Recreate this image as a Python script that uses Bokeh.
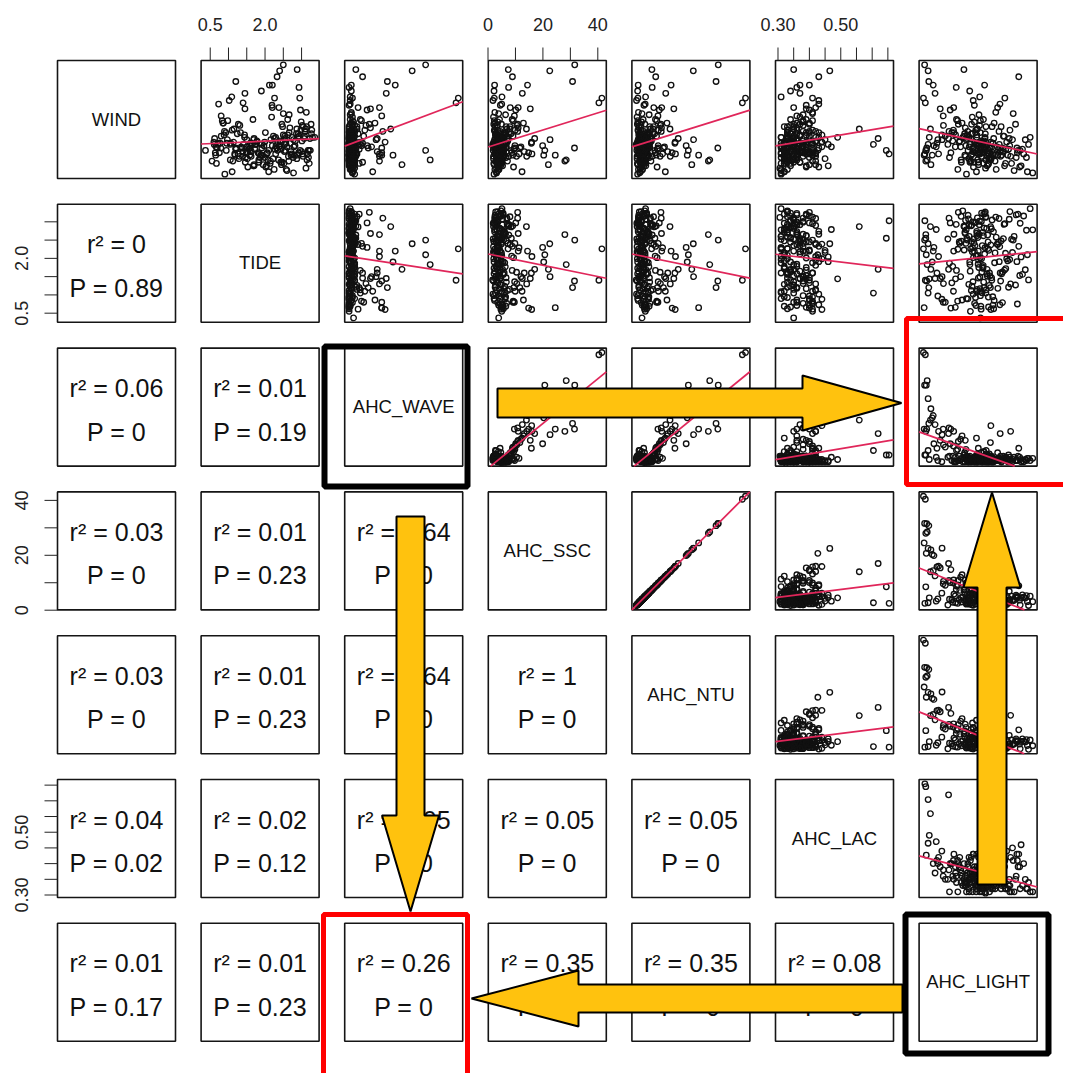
import numpy as np
from bokeh.plotting import figure
from bokeh.models import Range1d
from bokeh.core.properties import value
from bokeh.embed import file_html
from bokeh.resources import INLINE

# ---------------- data (one value per observation) ----------------
names = ["WIND", "TIDE", "AHC_WAVE", "AHC_SSC", "AHC_NTU", "AHC_LAC", "AHC_LIGHT"]
NA = float("nan")

wind = [2.1, 3.4, 6.8, 4.6, 2.8, 0.9, 3.7, 2.3, 5.2, 1.8,
        3.1, 2.6, 4.1, 1.5, 2.9, 6.3, 2.2, 3.8, 1.1, 2.7,
        4.4, 3.3, 0.6, 2.5, 3.9, 1.9, 7.4, 2.4, 3.0, 1.4,
        2.0, 4.8, 3.6, 1.7, 2.9, 2.3, 2.6, 3.2, 0.8, 4.2,
        3.5, 1.3, 7.9, 5.0, 2.1, 3.9, 1.6, 4.5, 2.3, 3.1,
        2.2, 2.8, 1.0, 3.4, 2.2, 4.0, 1.8, 2.5, 5.5, 3.0,
        1.5, 3.7, 2.4, 0.5, 4.3, 2.9, 3.6, 6.6, 8.6, 2.6,
        3.2, 4.7, 2.0, 1.2, 3.8, 2.7, 6.0, 1.6, 3.3, 2.4,
        4.1, 0.7, 2.9, 3.5, 1.9, 9.2, 2.2, 3.0, 1.4, 4.6,
        2.5, 3.9, 3.1, 2.1, 1.7, 3.4, 2.8, 4.9, 1.1, 3.6,
        2.3, 5.8, 1.8, 3.1, 2.6, 0.4, 4.4, 2.0, 3.7, 1.9,
        1.3, 2.9, 3.5, 2.7, 2.4,
        2.4, 1.6, 3.3, 2.0, 4.5, 2.7, 1.3, 3.8, 2.2, 3.0,
        1.8, 2.9, 4.0, 2.5, 1.0, 3.5, 2.1, 5.4, 2.8, 1.5,
        3.2, 2.3, 0.8, 4.2, 2.6, 3.7, 1.9, 2.4, 6.2, 3.1,
        2.0, 4.9, 2.7, 1.4, 3.4, 2.2, 3.9, 1.7, 2.9, 4.4,
        1.2, 3.6, 2.5, 5.0, 2.1, 3.0, 1.6, 2.8, 3.5, 0.6,
        4.7, 2.3, 3.1, 1.9, 2.6, 6.9, 2.0, 3.3, 1.4, 3.8,
        2.7, 1.1, 4.1, 2.4, 3.2, 1.8, 5.6, 2.6, 2.0, 3.6,
        1.7, 3.0, 2.2, 4.6, 1.3, 2.9, 3.4, 2.1, 7.7, 2.5,
        4.2, 3.4, 2.4, 2.9, 2.1, 3.5,
        6.8, 6.4, 9.6, 1.6, 8.2, 2.4, 9.1, 1.2, 2.6, 2.0, 7.9,
        7.2, 3.3, 2.1, 5.9, 1.5, 5.3, 4.0, 3.0, 2.8, 6.0, 2.0]

tide = [1.84, 0.62, 2.95, 1.27, 2.41, 3.12, 0.88, 1.63, 2.18, 2.77,
        2.45, 1.20, 3.28, 1.12, 2.53, 0.73, 1.49, 2.86, 2.04, 1.35,
        3.05, 0.97, 1.10, 1.72, 2.66, 2.64, 1.90, 3.21, 1.06, 2.47,
        1.58, 2.99, 0.80, 2.22, 1.41, 1.60, 0.69, 1.78, 2.58, 1.15,
        2.90, 2.52, 2.12, 1.67, 3.16, 0.93, 2.37, 1.31, 2.71, 1.99,
        0.64, 2.82, 1.53, 2.26, 2.92, 3.09, 1.87, 1.20, 2.50, 0.77,
        2.15, 1.44, 3.24, 2.78, 2.68, 1.75, 2.93, 1.02, 2.33, 1.60,
        3.01, 0.86, 1.93, 2.45, 1.24, 2.79, 2.38, 2.08, 1.69, 3.18,
        1.10, 2.60, 0.71, 2.29, 1.38, 2.88, 1.81, 0.95, 2.43, 3.26,
        1.56, 2.01, 0.60, 2.73, 1.29, 3.07, 2.20, 0.83, 1.70, 2.54,
        3.00, 2.97, 1.47, 2.35, 1.91, 0.90, 3.14, 1.18, 2.62, 1.30,
        0.67, 1.65, 3.36, 1.50, 0.37,
        2.35, 1.05, 2.78, 1.88, 3.02, 0.66, 2.14, 2.91, 1.51, 2.57,
        3.19, 1.73, 0.89, 2.44, 2.02, 3.30, 1.26, 2.66, 1.97, 0.55,
        2.83, 1.40, 2.25, 3.11, 0.79, 2.50, 1.62, 2.96, 2.19, 1.14,
        2.71, 0.98, 2.39, 1.83, 3.23, 2.06, 1.33, 2.87, 0.61, 2.48,
        1.95, 3.08, 1.21, 2.62, 2.29, 0.72, 3.15, 1.58, 2.74, 2.10,
        0.85, 2.53, 1.77, 3.04, 2.32, 1.09, 2.89, 2.16, 1.46, 3.27,
        2.60, 1.68, 2.98, 0.94, 2.41, 1.99, 3.13, 1.36, 2.81, 2.23,
        1.52, 2.69, 0.75, 2.46, 3.21, 1.91, 2.55, 1.17, 2.93, 2.27,
        2.87, 1.70, 2.55, 1.05, 3.03, 1.44,
        2.26, 1.40, 2.50, 1.83, 1.20, 2.10, 2.40, 1.70, 1.38, 1.90, 2.20,
        1.45, 1.50, 2.05, 1.45, 2.65, 0.80, 3.10, 1.60, 2.30, 2.20, 0.65]

wave = [0.05, 0.01, 0.04, 0.02, 0.12, 0.06, 0.01, 0.03, 0.04, 0.02,
        0.06, 0.18, 0.03, 0.01, 0.05, 0.02, 0.04, 0.09, 0.01, 0.03,
        0.04, 0.02, 0.22, 0.05, 0.01, 0.07, 0.03, 0.06, 0.02, 0.04,
        0.01, 0.05, 0.14, 0.02, 0.04, 0.26, 0.02, 0.06, 0.03, 0.08,
        0.05, 0.02, 0.03, 0.11, 0.01, 0.04, 0.06, 0.16, 0.01, 0.03,
        0.30, 0.01, 0.05, 0.02, 0.03, 0.04, 0.06, 0.10, 0.03, 0.01,
        0.02, 0.05, 0.01, 0.04, 0.20, 0.06, 0.03, 0.02, 0.13, 0.01,
        0.04, 0.24, 0.01, 0.06, 0.02, 0.05, 0.09, 0.01, 0.03, 0.04,
        0.15, 0.05, 0.01, 0.02, 0.06, 0.07, 0.03, 0.01, 0.04, 0.19,
        0.02, 0.06, 0.33, 0.04, 0.01, 0.03, 0.05, 0.12, 0.02, 0.06,
        0.03, 0.17, 0.01, 0.05, 0.02, 0.06, 0.08, 0.03, 0.04, 0.28,
        0.01, 0.04, 0.02, 0.21, 0.05,
        0.04, 0.01, 0.03, 0.02, 0.06, 0.01, 0.04, 0.02, 0.01, 0.05,
        0.02, 0.05, 0.01, 0.04, 0.03, 0.01, 0.08, 0.02, 0.05, 0.01,
        0.03, 0.06, 0.02, 0.01, 0.04, 0.02, 0.05, 0.03, 0.01, 0.11,
        0.01, 0.04, 0.02, 0.06, 0.01, 0.03, 0.02, 0.05, 0.09, 0.01,
        0.05, 0.01, 0.07, 0.02, 0.04, 0.01, 0.03, 0.06, 0.02, 0.04,
        0.03, 0.02, 0.01, 0.05, 0.03, 0.02, 0.04, 0.01, 0.13, 0.03,
        0.02, 0.04, 0.06, 0.01, 0.02, 0.05, 0.03, 0.02, 0.01, 0.04,
        0.06, 0.01, 0.02, 0.04, 0.10, 0.02, 0.05, 0.03, 0.01, 0.03,
        0.38, 0.26, 0.07, 0.11, 0.07, 0.03,
        0.98, 0.96, 0.69, 0.73, 0.35, 0.69, 0.57, 0.48, 0.30, 0.40, 0.42,
        0.34, 0.25, 0.28, 0.20, 0.28, 0.30, 0.31, 0.13, 0.17, 0.28, 0.30]

ssc = [4.2, 5.6, 2.3, 4.9, 9.8, 3.1, 6.2, 4.4, 2.0, 5.3,
       3.8, 11.6, 3.5, 7.1, 1.9, 5.0, 2.8, 8.4, 4.6, 6.7,
       2.6, 4.1, 12.4, 3.3, 5.8, 7.6, 2.2, 4.8, 6.0, 3.0,
       5.4, 3.6, 9.1, 4.3, 1.7, 13.2, 6.5, 2.9, 4.0, 7.9,
       3.2, 5.1, 2.4, 8.8, 4.7, 6.3, 3.4, 10.5, 5.7, 2.1,
       14.8, 4.5, 3.7, 7.3, 5.2, 2.5, 4.0, 9.4, 3.9, 6.8,
       4.9, 2.7, 5.5, 3.1, 11.0, 4.2, 7.0, 1.8, 8.9, 5.9,
       3.5, 12.9, 4.6, 2.3, 6.1, 3.3, 8.1, 5.0, 4.4, 2.6,
       9.9, 3.6, 5.4, 4.1, 2.0, 7.4, 3.8, 6.4, 4.8, 10.8,
       5.6, 3.0, 15.9, 2.4, 4.5, 6.9, 3.2, 9.2, 5.3, 4.3,
       2.8, 10.1, 6.6, 3.7, 4.9, 2.2, 8.0, 5.8, 3.4, 14.1,
       4.7, 2.5, 5.1, 12.0, 3.9,
       3.9, 4.6, 2.4, 6.1, 3.4, 5.2, 2.1, 7.8, 4.3, 3.6,
       5.5, 2.2, 4.4, 3.1, 9.3, 4.8, 2.7, 6.4, 3.8, 5.0,
       4.1, 3.2, 2.5, 6.9, 3.5, 5.7, 10.4, 1.9, 4.5, 3.0,
       6.0, 2.3, 4.9, 3.3, 5.4, 8.6, 3.7, 2.0, 4.7, 6.6,
       3.4, 5.3, 2.6, 4.2, 11.3, 3.9, 4.6, 2.2, 5.9, 3.1,
       2.4, 4.8, 6.3, 3.5, 2.0, 5.1, 9.0, 3.3, 4.4, 2.8,
       5.6, 3.7, 2.3, 4.9, 7.2, 3.2, 2.5, 9.7, 4.1, 3.6,
       3.0, 6.2, 4.5, 2.1, 3.8, 5.5, 2.7, 4.2, 7.5, 3.4,
       14.0, 17.0, 8.5, 2.7, 2.5, 4.5,
       41.5, 40.4, 31.6, 28.5, 30.8, 20.7, 22.5, 22.0, 31.5, 20.3, 14.4,
       12.5, 22.6, 16.0, 15.4, 28.0, 9.6, 10.8, 15.8, 19.9, 11.0, 24.5]

ntu = [8.5, 11.1, 4.7, 9.8, 19.5, 6.3, 12.4, 8.9, 4.1, 10.6,
       7.5, 23.3, 7.1, 14.2, 3.9, 10.0, 5.5, 16.9, 9.2, 13.3,
       5.3, 8.3, 24.7, 6.5, 11.7, 15.1, 4.5, 9.5, 12.1, 6.1,
       10.7, 7.3, 18.3, 8.5, 3.5, 26.5, 12.9, 5.9, 8.1, 15.7,
       6.3, 10.3, 4.9, 17.5, 9.5, 12.5, 6.9, 21.1, 11.3, 4.3,
       29.7, 9.1, 7.3, 14.7, 10.3, 5.1, 7.9, 18.9, 7.7, 13.5,
       9.9, 5.3, 11.1, 6.1, 21.9, 8.5, 13.9, 3.7, 17.7, 11.9,
       7.1, 25.9, 9.1, 4.7, 12.3, 6.5, 16.3, 9.9, 8.9, 5.3,
       19.7, 7.3, 10.7, 8.3, 4.1, 14.9, 7.5, 12.7, 9.7, 21.5,
       11.1, 6.1, 31.9, 4.9, 8.9, 13.7, 6.5, 18.5, 10.5, 8.7,
       5.5, 20.3, 13.1, 7.5, 9.7, 4.5, 16.1, 11.5, 6.9, 28.3,
       9.3, 5.1, 10.3, 24.1, 7.7,
       7.9, 9.3, 4.9, 12.3, 6.9, 10.5, 4.3, 15.7, 8.7, 7.3,
       11.1, 4.5, 8.9, 6.3, 18.7, 9.7, 5.5, 12.9, 7.7, 10.1,
       8.3, 6.5, 5.1, 13.9, 7.1, 11.5, 20.9, 3.9, 9.1, 6.1,
       12.1, 4.7, 9.9, 6.7, 10.9, 17.3, 7.5, 4.1, 9.5, 13.3,
       6.9, 10.7, 5.3, 8.5, 22.7, 7.9, 9.3, 4.5, 11.9, 6.3,
       4.9, 9.7, 12.7, 7.1, 4.1, 10.3, 18.1, 6.7, 8.9, 5.7,
       11.3, 7.5, 4.7, 9.9, 14.5, 6.5, 5.1, 19.5, 8.3, 7.3,
       6.1, 12.5, 9.1, 4.3, 7.7, 11.1, 5.5, 8.5, 15.1, 6.9,
       28.1, 34.1, 17.1, 5.5, 5.1, 9.1,
       83.2, 80.9, 63.3, 57.1, 61.7, 41.5, 45.1, 44.0, 63.0, 40.7, 28.9,
       25.0, 45.3, 32.1, 30.9, 56.1, 19.3, 21.7, 31.7, 39.9, 22.1, 49.0]

lac = [0.36, 0.33, 0.41, 0.35, 0.38, 0.306, 0.44, 0.34, 0.37, 0.32,
       0.39, 0.36, 0.33, 0.42, 0.35, 0.43, 0.38, 0.34, 0.46, 0.33,
       0.35, 0.40, 0.32, 0.32, 0.43, 0.36, 0.34, 0.39, 0.31, 0.37,
       0.33, 0.38, 0.35, 0.45, 0.34, 0.41, 0.32, 0.36, 0.33, 0.35,
       0.42, 0.31, 0.37, 0.34, 0.40, 0.33, 0.36, 0.38, 0.32, 0.44,
       0.40, 0.35, 0.39, 0.33, 0.37, 0.42, 0.31, 0.36, 0.41, 0.38,
       0.32, 0.37, 0.34, 0.31, 0.36, 0.39, 0.33, 0.43, 0.43, 0.31,
       0.38, 0.36, 0.32, 0.40, 0.34, 0.47, 0.42, 0.33, 0.35, 0.39,
       0.41, 0.31, 0.36, 0.31, 0.38, 0.35, 0.42, 0.32, 0.37, 0.40,
       0.33, 0.39, 0.44, 0.36, 0.32, 0.35, 0.38, 0.41, 0.34, 0.37,
       0.36, 0.40, 0.40, 0.35, 0.43, 0.31, 0.33, 0.36, 0.39, 0.42,
       0.34, 0.37, 0.31, 0.38, 0.35,
       0.37, 0.35, 0.33, 0.41, 0.34, 0.39, 0.32, 0.36, 0.38, 0.34,
       0.36, 0.32, 0.40, 0.34, 0.43, 0.33, 0.35, 0.38, 0.31, 0.41,
       0.34, 0.40, 0.31, 0.35, 0.41, 0.37, 0.33, 0.32, 0.39, 0.42,
       0.33, 0.38, 0.44, 0.35, 0.36, 0.31, 0.40, 0.33, 0.41, 0.32,
       0.42, 0.35, 0.33, 0.39, 0.31, 0.40, 0.34, 0.36, 0.43, 0.32,
       0.40, 0.38, 0.32, 0.34, 0.38, 0.31, 0.35, 0.45, 0.33, 0.33,
       0.31, 0.39, 0.36, 0.41, 0.42, 0.33, 0.41, 0.35, 0.32, 0.40,
       0.35, 0.33, 0.41, 0.37, 0.32, 0.46, 0.34, 0.39, 0.36, 0.33,
       0.559, 0.619, 0.645, 0.604, 0.654, 0.49,
       NA, NA, NA, NA, NA, 0.427, 0.465, NA, NA, NA, 0.40,
       0.37, NA, 0.42, 0.39, NA, 0.36, 0.38, 0.41, NA, 0.35, NA]

light = [24.5, 31.2, 36.0, 40.6, 19.3, 27.7, 8.9, 35.1, 22.0, 45.3,
         16.4, 29.8, 38.2, 21.6, 11.5, 33.9, 25.3, 18.7, 43.0, 26.9,
         30.5, 7.2, 23.8, 36.4, 14.1, 28.6, 20.9, 41.7, 26.2, 17.3,
         34.7, 22.9, 10.4, 29.1, 46.2, 34.0, 25.7, 13.6, 32.3, 24.1,
         20.6, 38.9, 27.3, 15.2, 44.1, 23.4, 30.0, 9.6, 26.5, 36.8,
         12.8, 28.2, 42.4, 21.3, 25.0, 33.5, 12.2, 27.0, 39.6, 23.0,
         31.8, 14.8, 26.0, 48.0, 19.0, 24.8, 35.7, 22.4, 42.0, 29.4,
         25.9, 17.6, 37.3, 28.8, 21.9, 6.5, 32.9, 24.3, 44.8, 20.2,
         13.9, 40.0, 23.6, 27.5, 34.2, 18.4, 26.7, 30.8, 22.7, 16.0,
         43.6, 25.4, 30.0, 31.1, 20.5, 37.9, 24.6, 15.7, 28.4, 35.4,
         22.2, 12.5, 30.3, 26.3, 41.2, 19.5, 27.9, 33.0, 24.0, 38.5,
         29.0, 21.1, 46.9, 17.0, 25.6,
         23.2, 27.9, 19.4, 31.6, 25.1, 14.7, 36.3, 21.8, 28.5, 24.4,
         40.9, 26.6, 20.1, 33.2, 22.5, 17.9, 29.3, 24.9, 38.1, 21.2,
         27.1, 30.4, 15.8, 24.2, 35.0, 19.9, 26.1, 42.6, 22.9, 28.0,
         18.8, 25.5, 32.7, 21.0, 27.4, 23.7, 13.2, 29.9, 25.8, 34.4,
         24.7, 20.4, 37.6, 26.8, 22.1, 30.9, 17.2, 28.3, 23.9, 45.7,
         31.4, 22.6, 26.4, 19.1, 33.8, 25.2, 21.5, 39.3, 24.6, 27.6,
         20.7, 35.9, 23.5, 28.9, 16.6, 26.0, 32.1, 22.3, 30.2, 18.5,
         29.6, 24.0, 41.4, 21.7, 26.9, 33.6, 19.7, 25.3, 15.1, 28.7,
         4.0, 11.8, 2.0, 3.0, 1.6, 3.5,
         1.0, 1.8, 1.5, 2.6, 3.3, 2.2, 3.0, 4.2, 2.4, 4.8, 5.2,
         6.0, 9.0, 7.5, 8.2, 2.0, 9.5, 12.0, 6.8, 5.5, 14.0, 1.3]

# printed statistics of the lower panels, row by row (row i, columns 0..i-1)
r2_text = ["0",
           "0.06", "0.01",
           "0.03", "0.01", "0.64",
           "0.03", "0.01", "0.64", "1",
           "0.04", "0.02", "0.05", "0.05", "0.05",
           "0.01", "0.01", "0.26", "0.35", "0.35", "0.08"]
p_text = ["0.89",
          "0", "0.19",
          "0", "0.23", "0",
          "0", "0.23", "0", "0",
          "0.02", "0.12", "0", "0", "0",
          "0.17", "0.23", "0", "0", "0", "0"]

# axis ticks
tide_ticks = [0.5, 1.0, 1.5, 2.0, 2.5, 3.0]
tide_tick_labels = ["0.5", "2.0"]
tide_label_at = [0.5, 2.0]
ssc_ticks = [0, 10, 20, 30, 40]
ssc_tick_labels = ["0", "20", "40"]
ssc_label_at = [0, 20, 40]
lac_ticks = [0.30, 0.35, 0.40, 0.45, 0.50, 0.55, 0.60, 0.65]
lac_tick_labels = ["0.30", "0.50"]
lac_label_at = [0.30, 0.50]

# ---------------- layout & style ----------------
FONT = "Liberation Sans"
RED = "#E0265A"
GOLD = "#FFC20E"
W, H = 1063, 1073
PX0, PY0 = 57.0, 60.0
PSX, PSY = 143.6, 143.8
PS = 118.0
TICK = 13
TOP_LABEL_Y = 24
LEFT_LABEL_X = 21

data = [np.array(v, dtype=float) for v in (wind, tide, wave, ssc, ntu, lac, light)]


def padded(v):
    lo, hi = np.nanmin(v), np.nanmax(v)
    d = (hi - lo) * 0.04
    return lo - d, hi + d


rng = [padded(v) for v in data]


def box(i, j):
    left = PX0 + j * PSX
    top = PY0 + i * PSY
    return left, left + PS, top, top + PS


p = figure(width=W, height=H, x_range=Range1d(0, W), y_range=Range1d(H, 0),
           output_backend="svg", toolbar_location=None, min_border=0,
           x_axis_type=None, y_axis_type=None)
p.grid.visible = False
p.outline_line_color = None
p.background_fill_color = "white"
p.border_fill_color = "white"

# panel frames
L, R, T, B = [], [], [], []
for i in range(7):
    for j in range(7):
        l, r, t, b = box(i, j)
        L.append(l); R.append(r); T.append(t); B.append(b)
p.quad(left=L, right=R, top=T, bottom=B, fill_color=None, line_color="#151515", line_width=1.6)


def clip_line(a, b, xlo, xhi, ylo, yhi):
    x0, x1 = xlo, xhi
    if b != 0:
        xa, xb = (ylo - a) / b, (yhi - a) / b
        x0 = max(x0, min(xa, xb))
        x1 = min(x1, max(xa, xb))
    return [x0, x1], [a + b * x0, a + b * x1]


# upper panels: scatter + least-squares line
for i in range(7):
    for j in range(i + 1, 7):
        l, r, t, b = box(i, j)
        (xlo, xhi), (ylo, yhi) = rng[j], rng[i]
        sub = p.subplot(x_source=Range1d(xlo, xhi), y_source=Range1d(ylo, yhi),
                        x_target=Range1d(l, r), y_target=Range1d(b, t))
        x, y = data[j], data[i]
        m = np.isfinite(x) & np.isfinite(y)
        sub.scatter(x[m], y[m], marker="circle", size=5.5, fill_color=None,
                    line_color="#111111", line_width=1.35)
        slope, icpt = np.polyfit(x[m], y[m], 1)
        xs, ys = clip_line(icpt, slope, xlo, xhi, ylo, yhi)
        sub.line(xs, ys, line_color=RED, line_width=1.7)

# diagonal names
dx, dy = [], []
for k in range(7):
    l, r, t, b = box(k, k)
    dx.append((l + r) / 2); dy.append((t + b) / 2 - 0.5)
p.text(x=dx, y=dy, text=names, text_font=value(FONT), text_font_size="18.5px",
       text_align="center", text_baseline="alphabetic", text_color="#111111")

# lower panels: r^2 and P
tx, ty1, ty2, t1, t2 = [], [], [], [], []
k = 0
for i in range(7):
    for j in range(i):
        l, r, t, b = box(i, j)
        cx, cy = (l + r) / 2, (t + b) / 2
        tx.append(cx); ty1.append(cy - 19); ty2.append(cy + 24.5)
        t1.append("r\u00b2 = " + r2_text[k]); t2.append("P = " + p_text[k])
        k += 1
p.text(x=tx, y=ty1, text=t1, text_font=value(FONT), text_font_size="25px",
       text_align="center", text_baseline="alphabetic", text_color="#111111")
p.text(x=tx, y=ty2, text=t2, text_font=value(FONT), text_font_size="25px",
       text_align="center", text_baseline="alphabetic", text_color="#111111")

# axes: top (columns 1, 3, 5) and left (rows 1, 3, 5)
axes = [(1, tide_ticks, tide_label_at, tide_tick_labels),
        (3, ssc_ticks, ssc_label_at, ssc_tick_labels),
        (5, lac_ticks, lac_label_at, lac_tick_labels)]
for idx, ticks, lab_at, labs in axes:
    lo, hi = rng[idx]
    l, r, t, b = box(0, idx)
    sx = p.subplot(x_source=Range1d(lo, hi), y_source=Range1d(0, 1),
                   x_target=Range1d(l, r), y_target=Range1d(0, 1))
    n = len(ticks)
    sx.segment(x0=ticks, y0=[t] * n, x1=ticks, y1=[t - TICK] * n,
               line_color="#222222", line_width=1)
    sx.text(x=lab_at, y=[TOP_LABEL_Y] * len(lab_at), text=labs, text_font=value(FONT),
            text_font_size="18px", text_align="center", text_baseline="alphabetic",
            text_color="#222222")
    l, r, t, b = box(idx, 0)
    sy = p.subplot(x_source=Range1d(0, 1), y_source=Range1d(lo, hi),
                   x_target=Range1d(0, 1), y_target=Range1d(b, t))
    sy.segment(x0=[l] * n, y0=ticks, x1=[l - TICK] * n, y1=ticks,
               line_color="#222222", line_width=1)
    sy.text(x=[LEFT_LABEL_X] * len(lab_at), y=lab_at, text=labs, text_font=value(FONT),
            text_font_size="18px", text_align="center", text_baseline="alphabetic",
            angle=np.pi / 2, text_color="#222222")

# highlight boxes
p.quad(left=[324, 905], right=[467, 1048], top=[346, 914], bottom=[486, 1053],
       fill_color=None, line_color="black", line_width=6)
p.quad(left=[906, 323], right=[1090, 467], top=[318, 914], bottom=[484, 1090],
       fill_color=None, line_color="#FF0000", line_width=5)


# arrows
def arrow(tail, tip, shaft_w, head_w, head_len):
    (x0, y0), (x1, y1) = tail, tip
    d = np.hypot(x1 - x0, y1 - y0)
    ux, uy = (x1 - x0) / d, (y1 - y0) / d
    nx, ny = -uy, ux
    bx, by = x1 - ux * head_len, y1 - uy * head_len
    pts = [(x0 + nx * shaft_w / 2, y0 + ny * shaft_w / 2),
           (bx + nx * shaft_w / 2, by + ny * shaft_w / 2),
           (bx + nx * head_w / 2, by + ny * head_w / 2),
           (x1, y1),
           (bx - nx * head_w / 2, by - ny * head_w / 2),
           (bx - nx * shaft_w / 2, by - ny * shaft_w / 2),
           (x0 - nx * shaft_w / 2, y0 - ny * shaft_w / 2)]
    return [q[0] for q in pts], [q[1] for q in pts]


arrow_specs = [((497, 402.5), (901, 402.5), 29, 55, 99),
               ((410, 516), (410, 911), 28, 57, 96),
               ((991.5, 884), (991.5, 492), 29, 57, 95),
               ((902, 998), (471, 998), 28, 56, 107)]
axs, ays = [], []
for spec in arrow_specs:
    ax_, ay_ = arrow(*spec)
    axs.append(ax_); ays.append(ay_)
p.patches(xs=axs, ys=ays, fill_color=GOLD, line_color="black", line_width=2)

open("out.html", "w").write(file_html(p, INLINE))
